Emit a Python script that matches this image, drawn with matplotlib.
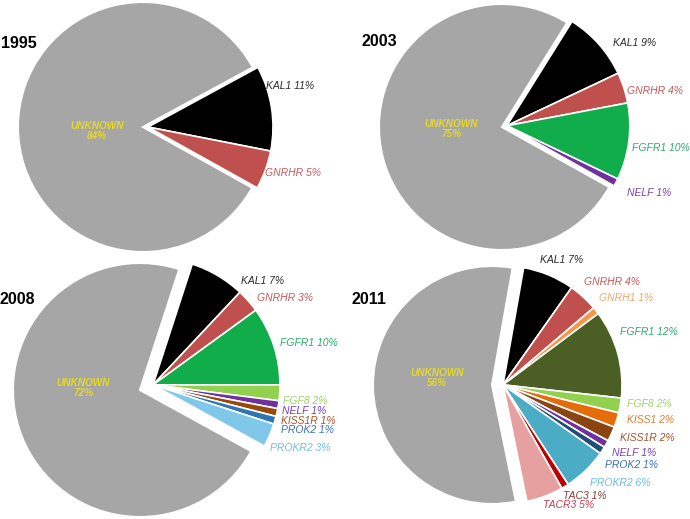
import numpy as np
import matplotlib.pyplot as plt

plt.rcParams['font.family'] = ['Liberation Sans', 'DejaVu Sans']

# data (percent of cases per gene)
years = ['1995', '2003', '2008', '2011']

genes_1995 = ['KAL1', 'GNRHR', 'UNKNOWN']
pct_1995 = [11, 5, 84]

genes_2003 = ['KAL1', 'GNRHR', 'FGFR1', 'NELF', 'UNKNOWN']
pct_2003 = [9, 4, 10, 1, 75]

genes_2008 = ['KAL1', 'GNRHR', 'FGFR1', 'FGF8', 'NELF', 'KISS1R', 'PROK2', 'PROKR2', 'UNKNOWN']
pct_2008 = [7, 3, 10, 2, 1, 1, 1, 3, 72]

genes_2011 = ['KAL1', 'GNRHR', 'GNRH1', 'FGFR1', 'FGF8', 'KISS1', 'KISS1R', 'NELF',
              'PROK2', 'PROKR2', 'TAC3', 'TACR3', 'UNKNOWN']
pct_2011 = [7, 4, 1, 12, 2, 2, 2, 1, 1, 6, 1, 5, 56]

# styles
slice_col = {'UNKNOWN': '#a6a6a6', 'KAL1': '#000000', 'GNRHR': '#c0504d', 'FGFR1': '#12ad4b',
             'NELF': '#7030a0', 'FGF8': '#92d050', 'KISS1R': '#984807', 'PROK2': '#2e75b6',
             'PROKR2': '#80c8ea', 'GNRH1': '#f79646', 'KISS1': '#e46c0a', 'TAC3': '#c00000',
             'TACR3': '#e6a0a0'}
slice_col_2011 = dict(slice_col, FGFR1='#4b5e23', KISS1R='#8b4513', PROK2='#1f4e79',
                      PROKR2='#4bacc6')
text_col = {'UNKNOWN': '#e6d82a', 'KAL1': '#2a2a2a', 'GNRHR': '#c9585a', 'FGFR1': '#2aae68',
            'NELF': '#7a3fb8', 'FGF8': '#9fd36a', 'KISS1R': '#a0582d', 'PROK2': '#3a70b8',
            'PROKR2': '#6cc0e0', 'GNRH1': '#f0a868', 'KISS1': '#e07a2a', 'TAC3': '#8e3a3a',
            'TACR3': '#c83c50'}

W, H = 690, 519

# layout in pixels (y from top): pie centre, radius, start angle, group shift,
# title position, unknown-label position, gene label positions
layout = {
    '1995': dict(c=(143, 127), r=125, start=28.5, shift=5, title=(1, 44), unk=(97, 131),
                 labels=[(266, 86), (265, 173)]),
    '2003': dict(c=(502, 127), r=123, start=58, shift=5, title=(362, 42), unk=(451, 129),
                 labels=[(613, 43), (627, 91), (632, 148), (627, 193)]),
    '2008': dict(c=(140, 390), r=127, start=72, shift=14, title=(0, 299), unk=(83, 388),
                 labels=[(241, 281), (257, 298), (280, 343), (283, 401), (282, 411),
                         (281, 421), (281, 430), (270, 448)]),
    '2011': dict(c=(492, 385), r=119, start=80, shift=11, title=(352, 299), unk=(437, 378),
                 labels=[(540, 260), (584, 282), (599, 298), (620, 332), (627, 404),
                         (627, 420), (620, 438), (612, 453), (605, 465), (590, 483),
                         (563, 496), (543, 505)]),
}

data = {'1995': (genes_1995, pct_1995), '2003': (genes_2003, pct_2003),
        '2008': (genes_2008, pct_2008), '2011': (genes_2011, pct_2011)}

fig = plt.figure(figsize=(W / 100, H / 100), dpi=100)
ax = fig.add_axes([0, 0, 1, 1])

for yr in years:
    genes, pct = data[yr]
    lo = layout[yr]
    cmap = slice_col_2011 if yr == '2011' else slice_col
    cx, cy = lo['c'][0], H - lo['c'][1]
    wedges, _ = ax.pie(pct, colors=[cmap[g] for g in genes], startangle=lo['start'],
                       counterclock=False, radius=lo['r'], center=(cx, cy), frame=True,
                       wedgeprops=dict(edgecolor='white', linewidth=1.5))
    # pull the known genes out together
    known = sum(pct[:-1]) / sum(pct) * 360
    mid = np.deg2rad(lo['start'] - known / 2)
    dx, dy = lo['shift'] * np.cos(mid), lo['shift'] * np.sin(mid)
    for w in wedges[:-1]:
        w.set_center((cx + dx, cy + dy))
        w.set_linewidth(1.2)

    ax.text(lo['title'][0], H - lo['title'][1], yr, fontsize=11.5, fontweight='bold',
            ha='left', va='center')
    ux, uy = lo['unk']
    ax.text(ux, H - uy, 'UNKNOWN\n%d%%' % pct[-1], fontsize=7.2, fontweight='bold',
            fontstyle='italic', color=text_col['UNKNOWN'], ha='center', va='center',
            linespacing=1.1)
    for g, p, (lx, ly) in zip(genes[:-1], pct[:-1], lo['labels']):
        ax.text(lx, H - ly, '%s %d%%' % (g, p), fontsize=7.5, fontstyle='italic',
                color=text_col[g], ha='left', va='center')

ax.set_xlim(0, W)
ax.set_ylim(0, H)
ax.set_aspect('auto')
ax.axis('off')

fig.savefig('out.png', dpi=100, facecolor='white')
